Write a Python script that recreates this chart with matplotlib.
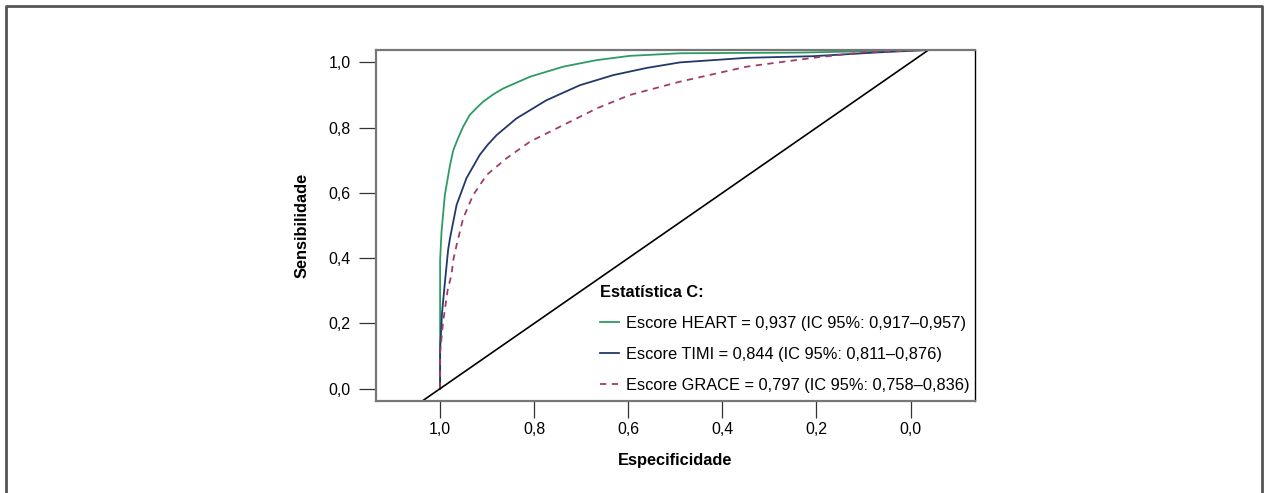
import matplotlib
matplotlib.use("Agg")
import matplotlib.pyplot as plt
from matplotlib import font_manager
from matplotlib.lines import Line2D

# pick a narrow sans if there is one
names = set(f.name for f in font_manager.fontManager.ttflist)
font = "Liberation Sans"
for cand in ["Liberation Sans Narrow", "DejaVu Sans Condensed", "Liberation Sans"]:
    if cand in names:
        font = cand
        break
plt.rcParams["font.family"] = [font, "DejaVu Sans"]

# curves (specificity, sensitivity)
heart_spec = [1.0, 1.0, 1.0, 1.0, 0.997, 0.990, 0.979, 0.972, 0.962, 0.951, 0.937, 0.922,
              0.909, 0.887, 0.866, 0.809, 0.738, 0.667, 0.597, 0.490, 0.235, -0.038]
heart_sens = [0.0, 0.149, 0.302, 0.394, 0.481, 0.593, 0.685, 0.731, 0.767, 0.803, 0.839, 0.861,
              0.879, 0.902, 0.920, 0.956, 0.987, 1.007, 1.020, 1.028, 1.030, 1.038]

timi_spec = [1.0, 1.0, 0.996, 0.990, 0.983, 0.979, 0.965, 0.944, 0.916, 0.898, 0.880, 0.838,
             0.774, 0.703, 0.632, 0.561, 0.490, 0.348, 0.207, 0.065, -0.038]
timi_sens = [0.0, 0.119, 0.231, 0.323, 0.425, 0.461, 0.563, 0.645, 0.716, 0.749, 0.777, 0.828,
             0.884, 0.930, 0.961, 0.983, 1.000, 1.014, 1.019, 1.031, 1.038]

grace_spec = [1.0, 1.0, 0.994, 0.984, 0.976, 0.972, 0.965, 0.951, 0.930, 0.901, 0.859,
              0.809, 0.738, 0.667, 0.597, 0.490, 0.348, 0.207, 0.100, -0.038]
grace_sens = [0.0, 0.109, 0.201, 0.302, 0.348, 0.394, 0.440, 0.522, 0.593, 0.655, 0.706,
              0.757, 0.808, 0.859, 0.900, 0.941, 0.987, 1.014, 1.031, 1.038]

labels = ["Escore HEART = 0,937 (IC 95%: 0,917\u20130,957)",
          "Escore TIMI = 0,844 (IC 95%: 0,811\u20130,876)",
          "Escore GRACE = 0,797 (IC 95%: 0,758\u20130,836)"]

ticks = [0.0, 0.2, 0.4, 0.6, 0.8, 1.0]
tick_labels = ["0,0", "0,2", "0,4", "0,6", "0,8", "1,0"]

fig = plt.figure(figsize=(12.64, 4.93), dpi=100)
ax = fig.add_axes([0.2972, 0.1872, 0.4742, 0.7114])

ax.plot(heart_spec, heart_sens, color="#2e9b65", lw=1.3, label=labels[0])
ax.plot(timi_spec, timi_sens, color="#22386b", lw=1.3, label=labels[1])
ax.plot(grace_spec, grace_sens, color="#a13b6e", lw=1.3, ls=(0, (3.5, 3)), label=labels[2])
ax.axline((1, 0), (0, 1), color="black", lw=1.2)

ax.set_xlim(1.137, -0.137)
ax.set_ylim(-0.037, 1.038)
ax.set_xticks(ticks)
ax.set_xticklabels(tick_labels)
ax.set_yticks(ticks)
ax.set_yticklabels(tick_labels)
ax.tick_params(direction="out", length=12, width=0.9, color="#333333", labelsize=11.5)
ax.tick_params(axis="x", pad=3)
ax.tick_params(axis="y", pad=6)

for side in ["left", "bottom", "top"]:
    ax.spines[side].set_color("#777777")
    ax.spines[side].set_linewidth(1.6)
ax.spines["right"].set_color("black")
ax.spines["right"].set_linewidth(1.0)

ax.set_xlabel("Especificidade", fontsize=11.8, fontweight="bold", labelpad=12)
ax.set_ylabel("Sensibilidade", fontsize=11.8, fontweight="bold", labelpad=13.5)

leg = ax.legend(loc="lower right", bbox_to_anchor=(0.99, 0.022), frameon=False,
                fontsize=11.8, title="Estat\u00edstica C:", alignment="left",
                title_fontproperties={"weight": "bold", "size": 11.8},
                handlelength=1.16, handletextpad=0.37, labelspacing=0.98,
                borderpad=0, borderaxespad=0)

# outer frame (open at the bottom)
fig.add_artist(Line2D([6 / 1264, 6 / 1264, 1262 / 1264, 1262 / 1264],
                      [0, 1 - 6 / 493, 1 - 6 / 493, 0],
                      transform=fig.transFigure, color="#555555", lw=2))

fig.savefig("out.png", dpi=100)
